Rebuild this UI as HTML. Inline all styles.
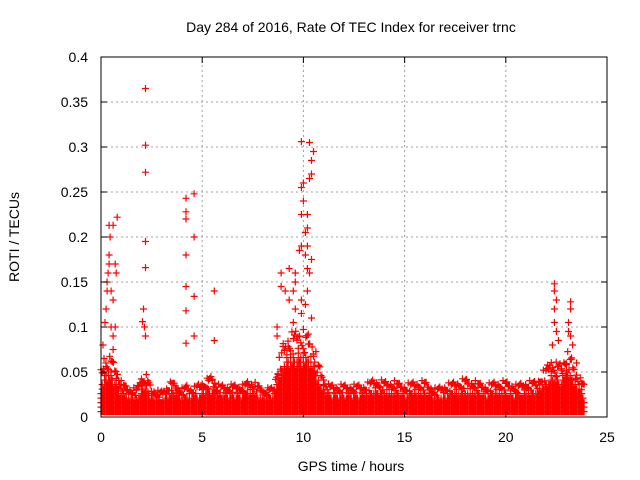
<!DOCTYPE html>
<html><head><meta charset="utf-8"><style>
body{margin:0;background:#fff}
svg{display:block;font-family:"Liberation Sans",sans-serif}
</style></head><body>
<svg id="chart" width="640" height="480" viewBox="0 0 640 480">
<rect width="640" height="480" fill="#fff"/>
<text x="351" y="32" font-size="14" text-anchor="middle" fill="#000">Day 284 of 2016, Rate Of TEC Index for receiver trnc</text>
<text x="351" y="471" font-size="14" text-anchor="middle" fill="#000">GPS time / hours</text>
<text transform="translate(19,237) rotate(-90)" font-size="14" text-anchor="middle" fill="#000">ROTI / TECUs</text>
<g id="grid"></g>
<g id="marks"></g>
<rect x="101" y="57" width="506" height="360" fill="none" stroke="#000" stroke-width="1"/>
<g id="ticks"></g>
</svg>
<script>
const xTicks=[0,5,10,15,20,25];
const yTicks=[0,0.05,0.1,0.15,0.2,0.25,0.3,0.35,0.4];
const yTickLabels=["0","0.05","0.1","0.15","0.2","0.25","0.3","0.35","0.4"];
const bandTimes=[0,0.25,0.5,0.75,1,1.25,1.5,1.75,2,2.25,2.5,2.75,3,3.25,3.5,3.75,4,4.25,4.5,4.75,5,5.25,5.5,5.75,6,6.25,6.5,6.75,7,7.25,7.5,7.75,8,8.25,8.5,8.75,9,9.25,9.5,9.75,10,10.25,10.5,10.75,11,11.25,11.5,12,12.5,13,13.5,14,14.5,15,15.5,16,16.5,17,17.5,18,18.5,19,19.5,20,20.5,21,21.5,22,22.25,22.5,22.75,23,23.25,23.5,23.75,23.9];
const bandMax=[0.04,0.05,0.05,0.042,0.03,0.026,0.024,0.024,0.035,0.035,0.024,0.022,0.022,0.026,0.03,0.027,0.024,0.027,0.024,0.027,0.03,0.032,0.035,0.027,0.027,0.027,0.027,0.027,0.027,0.03,0.03,0.027,0.024,0.024,0.025,0.045,0.062,0.07,0.07,0.075,0.072,0.07,0.062,0.045,0.034,0.027,0.027,0.027,0.027,0.027,0.032,0.03,0.03,0.027,0.03,0.03,0.024,0.027,0.03,0.032,0.03,0.027,0.03,0.03,0.027,0.03,0.03,0.042,0.05,0.045,0.045,0.055,0.05,0.038,0.03,0.027];
const spikeTimes=[2.2,2.2,2.2,2.2,2.2,2.1,2.05,2.2,2.15,4.2,4.2,4.2,4.2,4.2,4.2,4.2,4.6,4.6,4.6,4.6,5.6,5.6,0.8,0.6,0.4,0.45,0.4,0.35,0.3,0.5,0.7,0.75,0.6,0.25,0.2,0.5,0.7,0.1,0.6,0.3,0.4,0.15,0.6,
9.9,10.3,10.5,10.4,10.4,10.3,10,9.9,10,10.2,9.9,10.2,10.1,9.9,10.2,10.1,10.4,10.2,10.3,9.8,9.6,9.6,9.3,9.5,8.9,8.9,9.1,9.3,9.6,9.9,10.4,8.7,8.7,9.5,10.2,10.1,9.9,
22.4,22.4,22.5,22.4,22.4,22.5,22.6,23.2,23.2,23.1,23.1,23.2,22.3,23.3,23.5];
const spikeValues=[0.365,0.302,0.272,0.195,0.166,0.12,0.106,0.09,0.1,0.243,0.228,0.22,0.18,0.145,0.118,0.082,0.248,0.2,0.134,0.09,0.14,0.085,0.222,0.213,0.213,0.2,0.18,0.16,0.15,0.14,0.17,0.16,0.13,0.12,0.105,0.1,0.1,0.08,0.09,0.14,0.17,0.065,0.075,
0.306,0.305,0.295,0.285,0.27,0.265,0.26,0.255,0.24,0.225,0.225,0.21,0.205,0.19,0.19,0.18,0.175,0.165,0.16,0.185,0.16,0.15,0.165,0.14,0.16,0.145,0.14,0.13,0.12,0.13,0.11,0.1,0.09,0.105,0.14,0.125,0.115,
0.148,0.14,0.13,0.12,0.105,0.095,0.085,0.128,0.12,0.105,0.095,0.09,0.08,0.08,0.06];
const X0=101,X1=607,Y0=417,Y1=57;
const xs=t=>X0+(t/25)*(X1-X0);
const ys=v=>Y0-(v/0.4)*(Y0-Y1);
const NS="http://www.w3.org/2000/svg";
const grid=document.getElementById('grid'),ticks=document.getElementById('ticks'),marks=document.getElementById('marks');
function mk(tag,attrs,parent){const e=document.createElementNS(NS,tag);for(const k in attrs)e.setAttribute(k,attrs[k]);parent.appendChild(e);return e;}
xTicks.forEach(t=>{
  const x=xs(t);
  if(t>0&&t<25){const g=mk('line',{x1:x,x2:x,y1:Y0,y2:Y1,stroke:'#a0a0a0','stroke-dasharray':'2,3'},grid);
  
  }
  const tk=mk('path',{d:`M${x},${Y0}v-6M${x},${Y1}v6`,stroke:'#000'},ticks);
  
  
  const l=mk('text',{x:x,y:442,'font-size':14,'text-anchor':'middle'},ticks);l.textContent=t;
  
  
});
yTicks.forEach((v,i)=>{
  const y=ys(v);
  if(i>0&&i<yTicks.length-1){const g=mk('line',{x1:X0,x2:X1,y1:y,y2:y,stroke:'#a0a0a0','stroke-dasharray':'2,3'},grid);
  
  }
  const tk=mk('path',{d:`M${X0},${y}h6M${X1},${y}h-6`,stroke:'#000'},ticks);
  
  
  const l=mk('text',{x:88,y:y+5,'font-size':14,'text-anchor':'end'},ticks);l.textContent=yTickLabels[i];
  
  
});
let d='';
function cross(t,v){const x=xs(t),y=ys(v);d+=`M${(x-3.5).toFixed(1)},${y.toFixed(1)}h7M${x.toFixed(1)},${(y-3.5).toFixed(1)}v7`;}
const jitter=[0,0.55,0.15,0.9,0.35,0.7,0.05,1,0.45,0.25,0.8,0.6];
let k=0;
for(let i=0;i<bandTimes.length-1;i++){
  const t0=bandTimes[i],t1=bandTimes[i+1],m0=bandMax[i],m1=bandMax[i+1];
  for(let t=t0;t<t1;t+=0.06){
    const f=(t-t0)/(t1-t0),m=m0+(m1-m0)*f;
    const top=m*(0.75+0.25*jitter[k%12]);
    for(let v=0.006;v<=top;v+=0.005){cross(t,v);}
    cross(t,m*(1+0.35*jitter[(k*5+3)%12]));
    k++;
  }
}
spikeTimes.forEach((t,i)=>cross(t,spikeValues[i]));
const p=mk('path',{d:d,stroke:'#ff0000','stroke-width':1.2,fill:'none'},marks);


</script>
</body></html>
